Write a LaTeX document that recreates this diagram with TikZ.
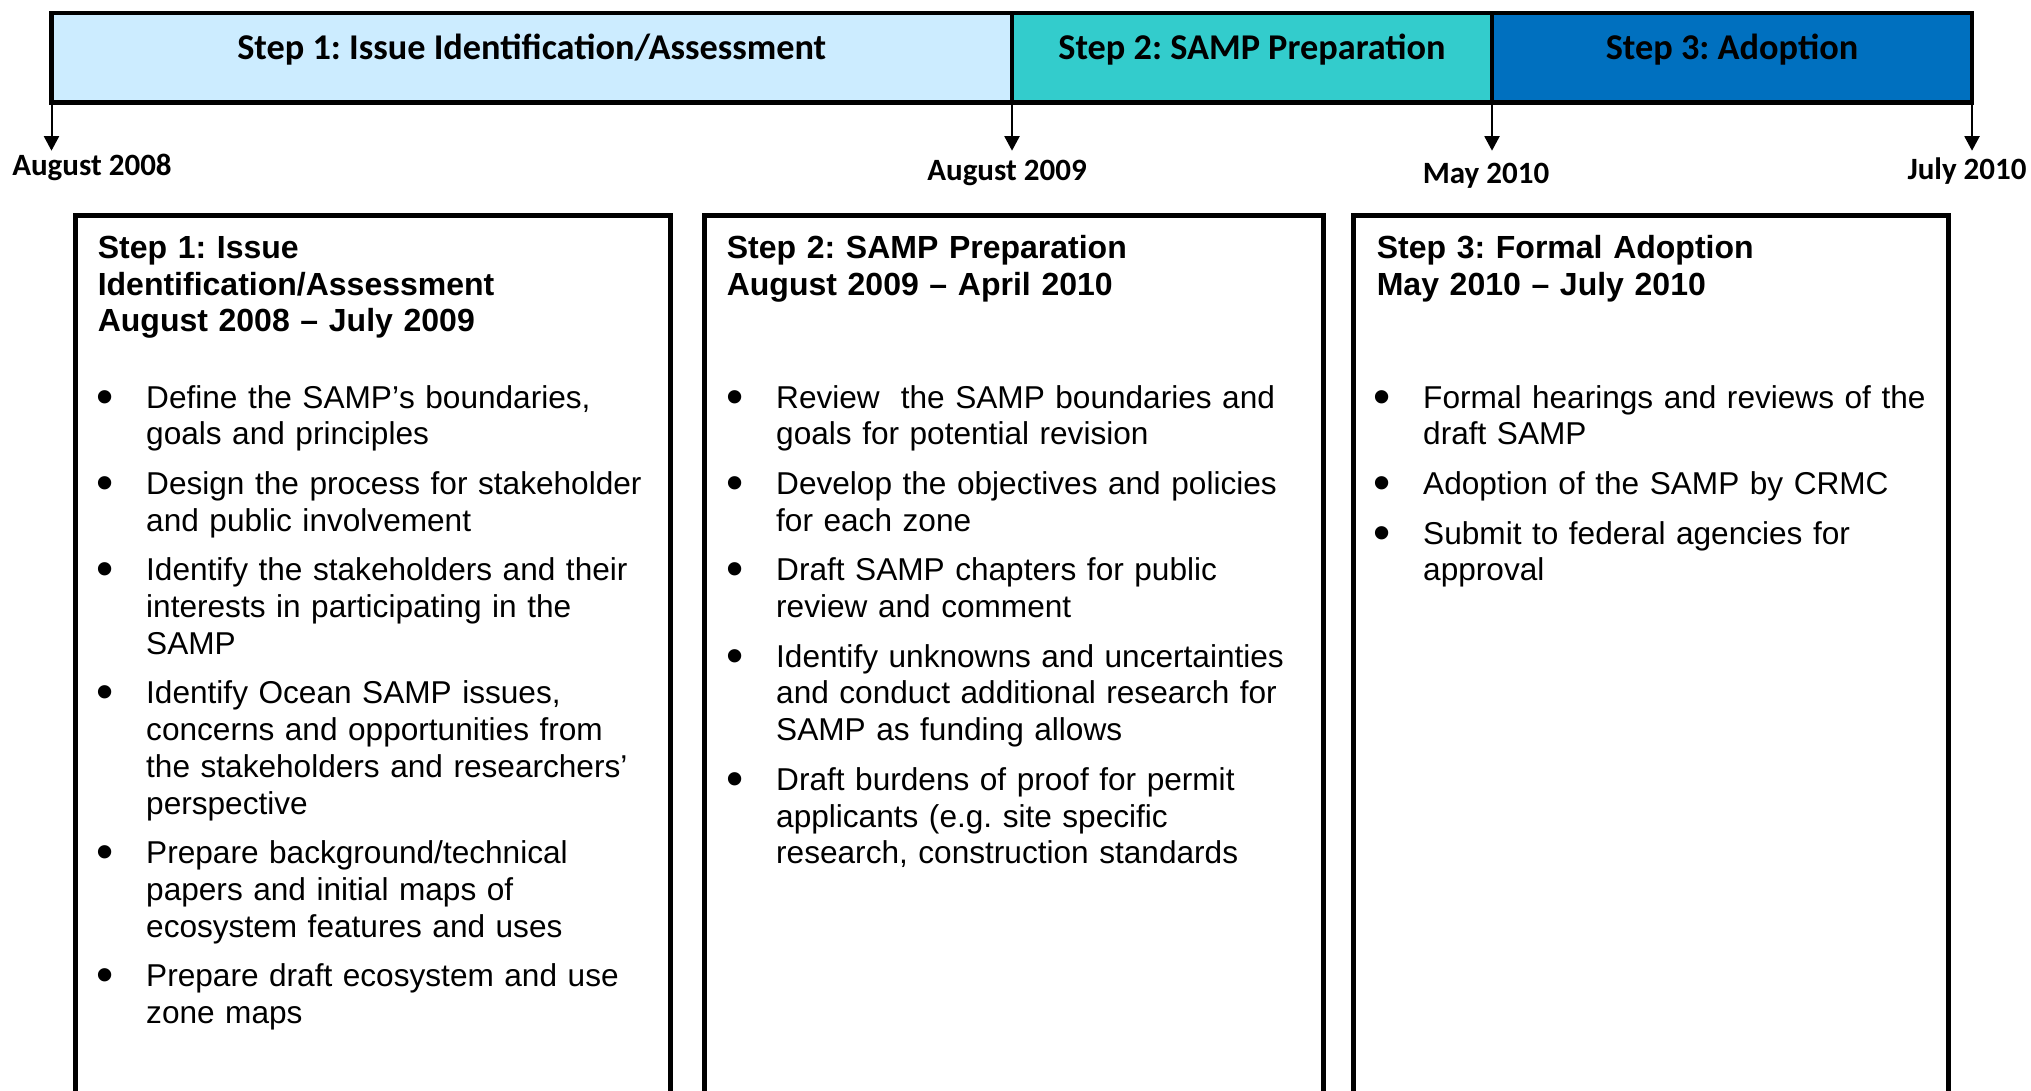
\documentclass[tikz,border=0pt]{standalone}
\usepackage{fontspec}
\setmainfont{Liberation Sans}[Kerning=Off,WordSpace={1,1,0}]
\newfontfamily\calib{Carlito}
\usepackage{enumitem}
\usetikzlibrary{arrows.meta}
\definecolor{paleblue}{rgb}{0.8,0.925,1}
\definecolor{sampteal}{rgb}{0.2,0.8,0.8}
\definecolor{deepblue}{rgb}{0,0.44,0.75}

\newcommand{\bigdot}{\hspace*{-2.5pt}\raisebox{-5pt}{\scalebox{1.55}{\textbullet}}}
\setlist[itemize]{label=\bigdot, leftmargin=47pt, labelwidth=47pt, labelsep=0pt, align=left,
  itemsep=13pt, parsep=0pt, topsep=0pt, partopsep=0pt}

\tikzset{
  barseg/.style={draw, line width=4.3pt, anchor=north west, minimum height=89.7pt, inner sep=0pt, outer sep=0pt},
  bartitle/.style={anchor=base, font=\calib\bfseries\fontsize{36.3}{40}\selectfont},
  datelbl/.style={anchor=base, font=\calib\bfseries\fontsize{31}{36}\selectfont},
  tick/.style={-{Triangle[width=15pt,length=14.5pt]}, line width=2pt},
  stepbox/.style={line width=5pt},
  boxhead/.style={anchor=base west, inner sep=0pt, align=left, font=\bfseries\fontsize{32}{36.8}\selectfont},
  boxlist/.style={anchor=base west, inner sep=0pt, align=left, font=\fontsize{31.6}{36.7}\selectfont}
}

\begin{document}
\frenchspacing
\begin{tikzpicture}[line join=miter, x=1pt, y=-1pt]
    \clip (0,0) rectangle (2031,1091);

    % timeline bar
    \node[barseg, fill=paleblue, minimum width=960.5pt] (bar1) at (51.5,12.8) {};
    \node[barseg, fill=sampteal, minimum width=480pt] (bar2) at (1012,12.8) {};
    \node[barseg, fill=deepblue, minimum width=480pt] (bar3) at (1492,12.8) {};

    \node[bartitle] (title1) at (531.75,59.3) {Step 1: Issue Identification/Assessment};
    \node[bartitle] (title2) at (1252,59.3) {Step 2: SAMP Preparation};
    \node[bartitle] (title3) at (1732,59.3) {Step 3: Adoption};

    % dates
    \coordinate (tip1) at (51.5,150.7);
    \coordinate (tip2) at (1012,150.7);
    \coordinate (tip3) at (1492,150.7);
    \coordinate (tip4) at (1972,150.7);

    \draw[tick] (bar1.south west) -- (tip1);
    \draw[tick] (bar2.south west) -- (tip2);
    \draw[tick] (bar3.south west) -- (tip3);
    \draw[tick] (bar3.south east) -- (tip4);

    \node[datelbl] (date1) at (92,176) {August 2008};
    \node[datelbl] (date2) at (1007,181) {August 2009};
    \node[datelbl] (date3) at (1486,184) {May 2010};
    \node[datelbl] (date4) at (1967,180) {July 2010};

    % step boxes
    \draw[stepbox] (75.5,1100) -- (75.5,215.5) -- (670.5,215.5) -- (670.5,1100);
    \draw[stepbox] (704.5,1100) -- (704.5,215.5) -- (1323.5,215.5) -- (1323.5,1100);
    \draw[stepbox] (1353.5,1100) -- (1353.5,215.5) -- (1948,215.5) -- (1948,1100);

    \node[boxhead, text width=560pt] (head1) at (97.6,258.3)
        {Step 1: Issue\\Identification/Assessment\\August 2008 – July 2009};
    \node[boxhead, text width=580pt] (head2) at (726.6,258.3)
        {Step 2: SAMP Preparation\\August 2009 – April 2010};
    \node[boxhead, text width=560pt] (head3) at (1376.6,258.3)
        {Step 3: Formal Adoption\\May 2010 – July 2010};

    \node[boxlist, text width=543.5pt] (list1) at (99,371.3) {%
        \begin{itemize}
        \item Define the SAMP’s boundaries, goals and principles
        \item Design the process for stakeholder and public involvement
        \item Identify the stakeholders and their interests in participating in the SAMP
        \item Identify Ocean SAMP issues, concerns and opportunities from the stakeholders and researchers’ perspective
        \item Prepare background/technical papers and initial maps of ecosystem features and uses
        \item Prepare draft ecosystem and use zone maps
        \end{itemize}};
    \node[boxlist, text width=567pt] (list2) at (729,371.3) {%
        \begin{itemize}
        \item Review\ \ the SAMP boundaries and goals for potential revision
        \item Develop the objectives and policies for each zone
        \item Draft SAMP chapters for public review and comment
        \item Identify unknowns and uncertainties and conduct additional research for SAMP as funding allows
        \item Draft burdens of proof for permit applicants (e.g. site specific research, construction standards
        \end{itemize}};
    \node[boxlist, text width=562pt] (list3) at (1376,371.3) {%
        \begin{itemize}
        \item Formal hearings and reviews of the draft SAMP
        \item Adoption of the SAMP by CRMC
        \item Submit to federal agencies for approval
        \end{itemize}};
\end{tikzpicture}
\end{document}
